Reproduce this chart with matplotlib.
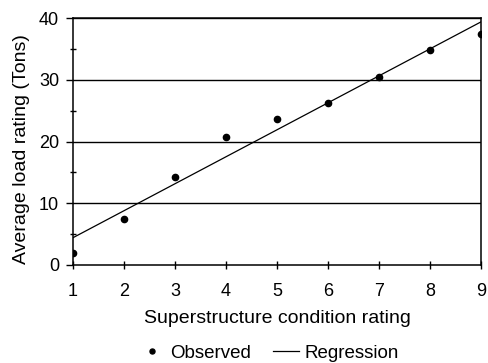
import numpy as np
import matplotlib.pyplot as plt
from matplotlib.ticker import MultipleLocator

# condition rating vs observed average load rating
condition = [1, 2, 3, 4, 5, 6, 7, 8, 9]
load_rating = [2.0, 7.4, 14.3, 20.7, 23.6, 26.3, 30.5, 34.9, 37.5]
y_ticks = [0, 10, 20, 30, 40]
x_ticks = [1, 2, 3, 4, 5, 6, 7, 8, 9]

plt.rcParams['font.family'] = ['Liberation Sans', 'DejaVu Sans']

def main():
    x = np.array(condition, dtype=float)
    y = np.array(load_rating)

    # least squares fit
    slope, intercept = np.polyfit(x, y, 1)
    x_fit = np.array([x.min(), x.max()])
    y_fit = slope * x_fit + intercept

    fig = plt.figure(figsize=(4.89, 3.63), dpi=100)
    ax = fig.add_axes([0.149, 0.27, 0.835, 0.68])

    for yv in y_ticks[1:]:
        ax.axhline(yv, color='black', lw=1.0, zorder=1)

    ax.plot(x, y, 'o', color='black', markersize=4.5, label='Observed', zorder=3)
    ax.plot(x_fit, y_fit, '-', color='black', lw=0.9, label='Regression', zorder=2)

    ax.set_xlim(1, 9)
    ax.set_ylim(0, 40)
    ax.set_xticks(x_ticks)
    ax.set_yticks(y_ticks)
    ax.yaxis.set_minor_locator(MultipleLocator(5))
    ax.tick_params(axis='y', which='major', direction='out', length=5, width=1.0, labelsize=13, pad=5)
    ax.tick_params(axis='y', which='minor', direction='inout', length=5, width=1.0)
    ax.tick_params(axis='x', which='major', direction='inout', length=6, width=1.0, labelsize=13, pad=10)
    for sp in ax.spines.values():
        sp.set_linewidth(1.1)

    ax.set_xlabel('Superstructure condition rating', fontsize=14, labelpad=7)
    ax.set_ylabel('Average load rating (Tons)', fontsize=14)
    ax.yaxis.set_label_coords(-0.105, 0.47)

    fig.legend(loc='lower center', bbox_to_anchor=(0.55, -0.033), ncol=2, frameon=False,
               fontsize=13.5, handlelength=1.35, handletextpad=0.3, columnspacing=1.2,
               markerscale=0.8, borderpad=0.2)

    plt.savefig('out.png', dpi=100)
    plt.close()

if __name__ == '__main__':
    main()
